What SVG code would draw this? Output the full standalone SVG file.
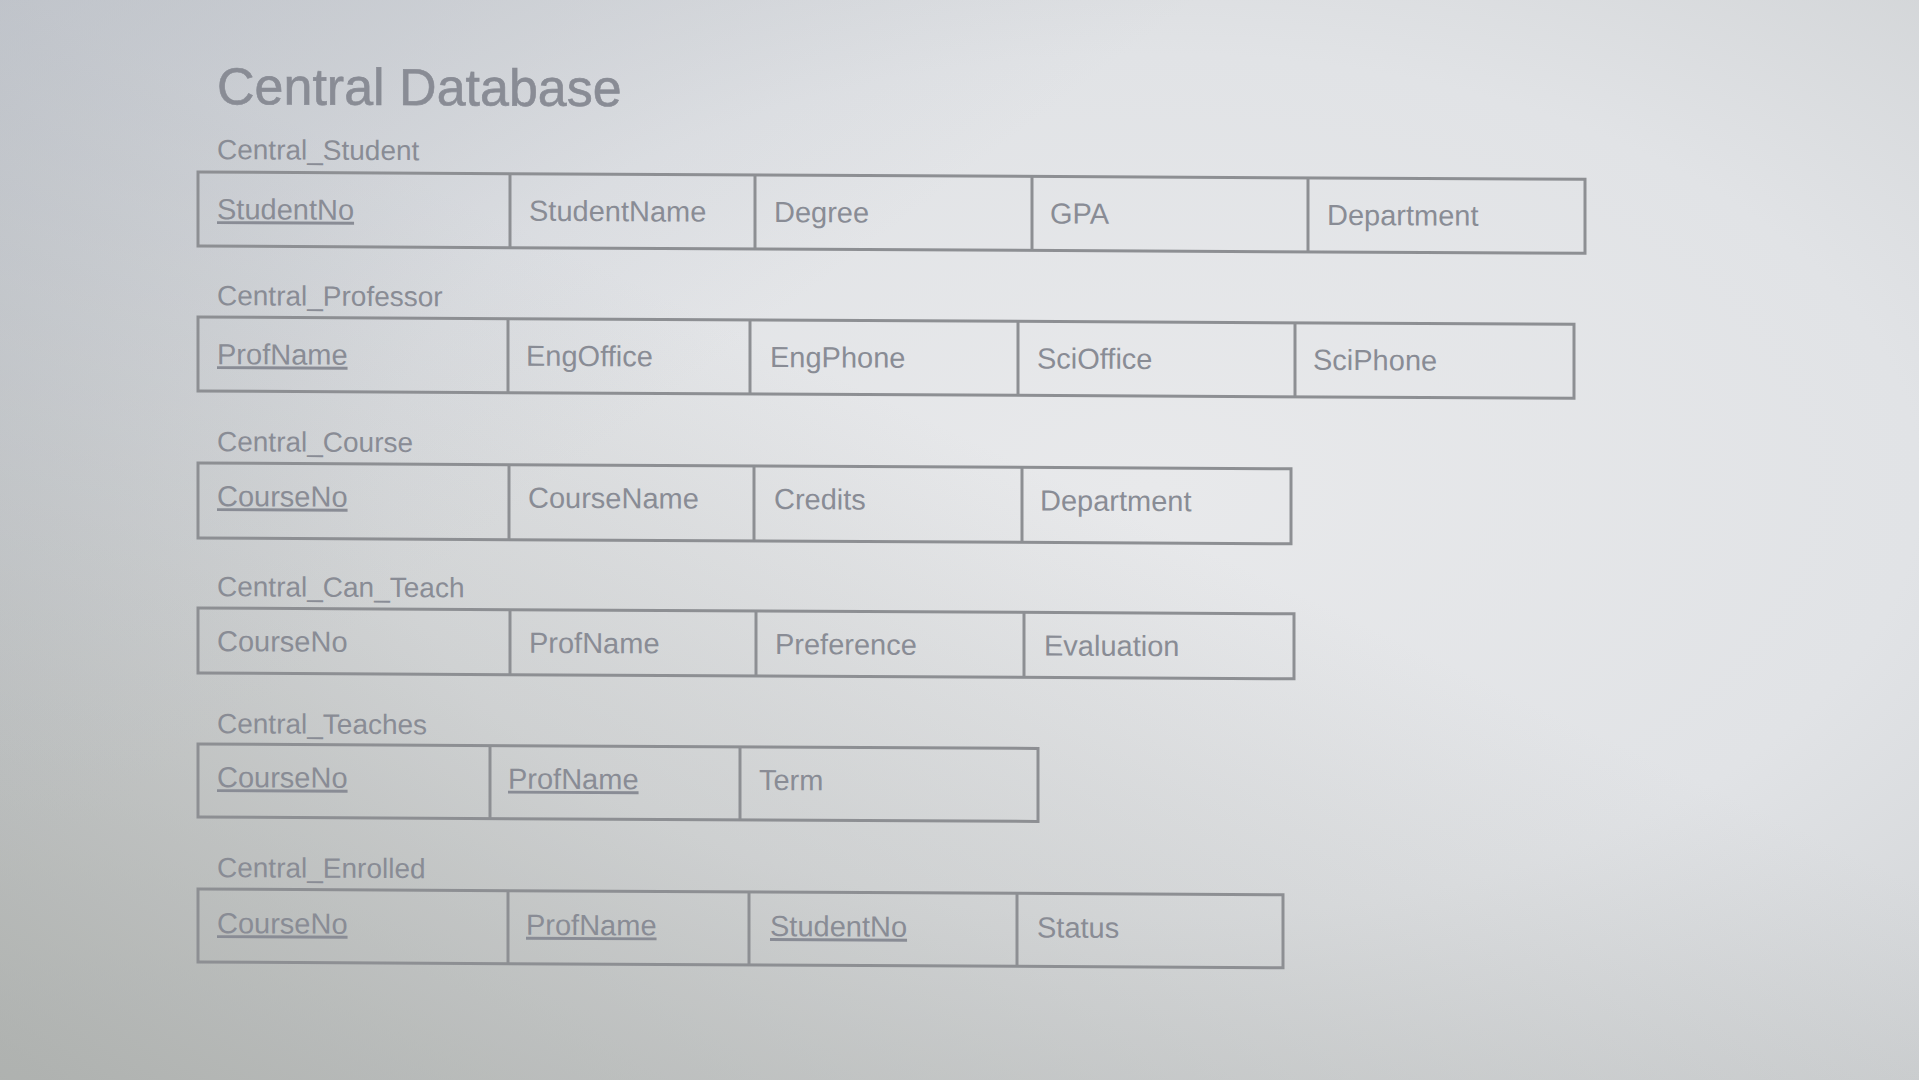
<svg xmlns="http://www.w3.org/2000/svg" width="1919" height="1080" viewBox="0 0 1919 1080">
<defs>
<radialGradient id="bg" cx="0.6" cy="0.45" r="0.8">
<stop offset="0" stop-color="#e8e9eb"/>
<stop offset="0.5" stop-color="#e1e3e6"/>
<stop offset="1" stop-color="#c8cbcd"/>
</radialGradient>
<linearGradient id="shade" x1="0" y1="1" x2="0.5" y2="0.4">
<stop offset="0" stop-color="#9ea19c" stop-opacity="0.6"/>
<stop offset="1" stop-color="#9ea19c" stop-opacity="0"/>
</linearGradient>
<linearGradient id="topshade" x1="0" y1="0" x2="0.4" y2="0.3">
<stop offset="0" stop-color="#b7bcc6" stop-opacity="0.55"/>
<stop offset="1" stop-color="#b7bcc6" stop-opacity="0"/>
</linearGradient>
</defs>
<style>
.t{font-family:"Liberation Sans",Arial,sans-serif;fill:#898c95}
.title{font-size:52px;stroke:#898c95;stroke-width:0.6}
.lbl{font-size:28px}
.cell{font-size:29px}
.u{text-decoration:underline}
.box{fill:none;stroke:#8d8f93;stroke-width:3}
.div{stroke:#8d8f93;stroke-width:3}
</style>
<rect width="1919" height="1080" fill="url(#bg)"/>
<rect width="1919" height="1080" fill="url(#shade)"/>
<rect width="1919" height="1080" fill="url(#topshade)"/>
<g transform="translate(0,-1) skewY(0.3)">
<text class="t title" x="217" y="104">Central Database</text>

<g id="central_student">
<text class="t lbl" x="217" y="159">Central_Student</text>
<rect class="box" x="198" y="172" width="1387" height="74"/>
<line class="div" x1="510" y1="172" x2="510" y2="246"/>
<line class="div" x1="755" y1="172" x2="755" y2="246"/>
<line class="div" x1="1032" y1="172" x2="1032" y2="246"/>
<line class="div" x1="1308" y1="172" x2="1308" y2="246"/>
<text class="t cell u" x="217" y="219">StudentNo</text>
<text class="t cell" x="529" y="219">StudentName</text>
<text class="t cell" x="774" y="219">Degree</text>
<text class="t cell" x="1050" y="219">GPA</text>
<text class="t cell" x="1327" y="219">Department</text>
</g>

<g id="central_professor">
<text class="t lbl" x="217" y="305">Central_Professor</text>
<rect class="box" x="198" y="317" width="1376" height="74"/>
<line class="div" x1="508" y1="317" x2="508" y2="391"/>
<line class="div" x1="750" y1="317" x2="750" y2="391"/>
<line class="div" x1="1018" y1="317" x2="1018" y2="391"/>
<line class="div" x1="1295" y1="317" x2="1295" y2="391"/>
<text class="t cell u" x="217" y="364">ProfName</text>
<text class="t cell" x="526" y="364">EngOffice</text>
<text class="t cell" x="770" y="364">EngPhone</text>
<text class="t cell" x="1037" y="364">SciOffice</text>
<text class="t cell" x="1313" y="364">SciPhone</text>
</g>

<g id="central_course">
<text class="t lbl" x="217" y="451">Central_Course</text>
<rect class="box" x="198" y="463" width="1093" height="75"/>
<line class="div" x1="509" y1="463" x2="509" y2="538"/>
<line class="div" x1="754" y1="463" x2="754" y2="538"/>
<line class="div" x1="1022" y1="463" x2="1022" y2="538"/>
<text class="t cell u" x="217" y="506">CourseNo</text>
<text class="t cell" x="528" y="506">CourseName</text>
<text class="t cell" x="774" y="506">Credits</text>
<text class="t cell" x="1040" y="506">Department</text>
</g>

<g id="central_can_teach">
<text class="t lbl" x="217" y="596">Central_Can_Teach</text>
<rect class="box" x="198" y="608" width="1096" height="65"/>
<line class="div" x1="510" y1="608" x2="510" y2="673"/>
<line class="div" x1="756" y1="608" x2="756" y2="673"/>
<line class="div" x1="1024" y1="608" x2="1024" y2="673"/>
<text class="t cell" x="217" y="651">CourseNo</text>
<text class="t cell" x="529" y="651">ProfName</text>
<text class="t cell" x="775" y="651">Preference</text>
<text class="t cell" x="1044" y="651">Evaluation</text>
</g>

<g id="central_teaches">
<text class="t lbl" x="217" y="733">Central_Teaches</text>
<rect class="box" x="198" y="744" width="840" height="73"/>
<line class="div" x1="490" y1="744" x2="490" y2="817"/>
<line class="div" x1="740" y1="744" x2="740" y2="817"/>
<text class="t cell u" x="217" y="787">CourseNo</text>
<text class="t cell u" x="508" y="787">ProfName</text>
<text class="t cell" x="759" y="787">Term</text>
</g>

<g id="central_enrolled">
<text class="t lbl" x="217" y="877">Central_Enrolled</text>
<rect class="box" x="198" y="889" width="1085" height="73"/>
<line class="div" x1="508" y1="889" x2="508" y2="962"/>
<line class="div" x1="749" y1="889" x2="749" y2="962"/>
<line class="div" x1="1017" y1="889" x2="1017" y2="962"/>
<text class="t cell u" x="217" y="933">CourseNo</text>
<text class="t cell u" x="526" y="933">ProfName</text>
<text class="t cell u" x="770" y="933">StudentNo</text>
<text class="t cell" x="1037" y="933">Status</text>
</g>
</g>
</svg>
